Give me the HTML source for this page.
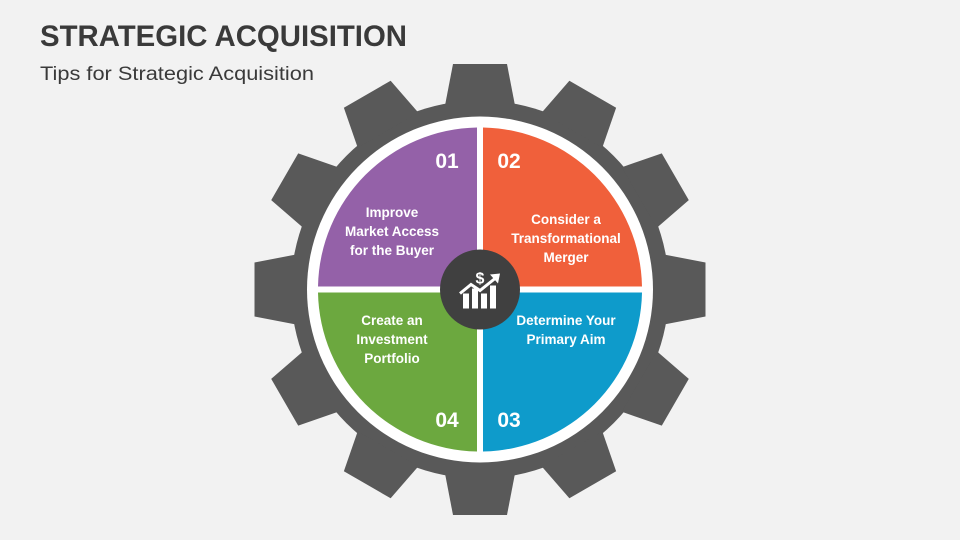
<!DOCTYPE html>
<html><head><meta charset="utf-8"><style>
html,body{margin:0;padding:0;background:#f2f2f2;}
svg{display:block;}
</style></head><body>
<svg width="960" height="540" viewBox="0 0 960 540" xmlns="http://www.w3.org/2000/svg" font-family="'Liberation Sans', sans-serif">
<rect width="960" height="540" fill="#f2f2f2"/>
<text x="40" y="46" font-size="30" font-weight="bold" fill="#3a3a3a" textLength="367" lengthAdjust="spacingAndGlyphs">STRATEGIC ACQUISITION</text>
<text x="40" y="80" font-size="19" fill="#3a3a3a" textLength="274" lengthAdjust="spacingAndGlyphs">Tips for Strategic Acquisition</text>
<g transform="translate(480,289.5)">
  <circle r="189" fill="#595959"/>
  <g fill="#595959">
    <polygon id="t" points="-35,-184 -27,-225.5 27,-225.5 35,-184"/>
    <use href="#t" transform="rotate(30)"/><use href="#t" transform="rotate(60)"/><use href="#t" transform="rotate(90)"/>
    <use href="#t" transform="rotate(120)"/><use href="#t" transform="rotate(150)"/><use href="#t" transform="rotate(180)"/>
    <use href="#t" transform="rotate(210)"/><use href="#t" transform="rotate(240)"/><use href="#t" transform="rotate(270)"/>
    <use href="#t" transform="rotate(300)"/><use href="#t" transform="rotate(330)"/>
  </g>
  <circle r="173" fill="#ffffff"/>
  <path d="M-3,-3 L-3,-162 A162,162 0 0 0 -162,-3 Z" fill="#9461a8"/>
  <path d="M3,-3 L3,-162 A162,162 0 0 1 162,-3 Z" fill="#f0603b"/>
  <path d="M3,3 L3,162 A162,162 0 0 0 162,3 Z" fill="#0e9bcb"/>
  <path d="M-3,3 L-3,162 A162,162 0 0 1 -162,3 Z" fill="#6ca83f"/>
  <circle r="40" fill="#404040"/>
  <g fill="#fff">
    <rect x="-17" y="4" width="6" height="15"/>
    <rect x="-8" y="-1" width="6" height="20"/>
    <rect x="1" y="4" width="6" height="15"/>
    <rect x="10" y="-4" width="6" height="23"/>
    <polyline points="-20,4 -9,-5 0,1 15,-11" fill="none" stroke="#fff" stroke-width="3"/>
    <polygon points="10,-15 20,-16 18,-6"/>
    <text x="0" y="-6" font-size="16" font-weight="bold" text-anchor="middle">$</text>
  </g>
</g>
<g fill="#fff" font-weight="bold" text-anchor="middle">
  <text x="447" y="168" font-size="21">01</text>
  <text x="509" y="168" font-size="21">02</text>
  <text x="509" y="427" font-size="21">03</text>
  <text x="447" y="427" font-size="21">04</text>
  <g font-size="13.5">
    <text x="392" y="217">Improve</text>
    <text x="392" y="236">Market Access</text>
    <text x="392" y="255">for the Buyer</text>
    <text x="566" y="224">Consider a</text>
    <text x="566" y="243">Transformational</text>
    <text x="566" y="262">Merger</text>
    <text x="566" y="325">Determine Your</text>
    <text x="566" y="344">Primary Aim</text>
    <text x="392" y="325">Create an</text>
    <text x="392" y="344">Investment</text>
    <text x="392" y="363">Portfolio</text>
  </g>
</g>
</svg>
</body></html>
